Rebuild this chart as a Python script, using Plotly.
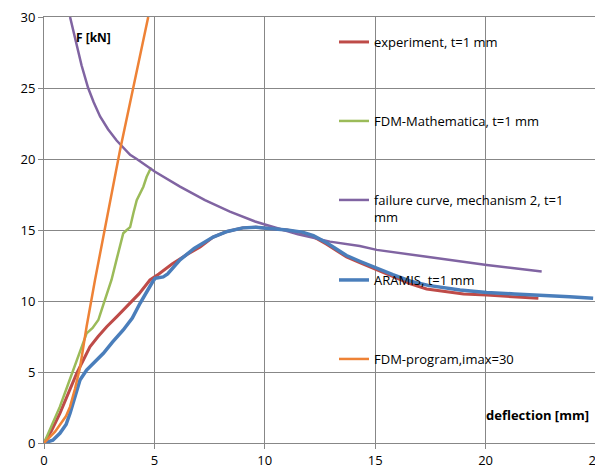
import plotly.graph_objects as go

# ---- data ----
exp_x = [0, 0.35, 0.72, 1.1, 1.48, 1.8, 2.08, 2.45, 2.84, 3.3, 3.74, 4.3, 4.8, 5.2, 5.8, 6.5, 7.07,
         7.66, 8.3, 9.0, 9.6, 10.2, 11.0, 11.7, 12.2, 12.8, 13.3, 13.7, 14.3, 15.07, 15.8, 16.6,
         17.33, 18.2, 19.0, 20.05, 21.2, 22.39]
exp_y = [0, 0.9, 2.09, 3.5, 4.9, 5.9, 6.78, 7.5, 8.19, 8.9, 9.6, 10.5, 11.48, 11.9, 12.6, 13.3, 13.8,
         14.5, 14.9, 15.15, 15.2, 15.1, 15.0, 14.8, 14.53, 14.0, 13.5, 13.1, 12.7, 12.2, 11.7, 11.2,
         10.85, 10.65, 10.5, 10.42, 10.3, 10.19]

math_x = [0, 0.35, 0.72, 1.0, 1.33, 1.6, 1.93, 2.2, 2.46, 2.61, 2.76, 3.06, 3.3, 3.59, 3.75, 3.9,
          4.05, 4.2, 4.5, 4.65, 4.85]
math_y = [0, 1.25, 2.56, 3.75, 5.14, 6.3, 7.72, 8.1, 8.66, 9.37, 10.07, 11.5, 13.0, 14.77, 15.0, 15.2,
          16.2, 17.1, 18.05, 18.75, 19.4]

fail_x = [1.18, 1.3, 1.48, 1.7, 2.0, 2.25, 2.54, 2.9, 3.29, 3.9, 4.2, 5.03, 6.16, 7.29, 8.42, 9.56,
          10.08, 11.5, 12.95, 14.3, 15.07, 16.2, 17.33, 18.7, 20.05, 21.3, 22.54]
fail_y = [30, 29.2, 28.1, 26.6, 25, 24.0, 23, 22.1, 21.3, 20.3, 20.0, 19.1, 18.05, 17.1, 16.3, 15.6,
          15.35, 14.7, 14.18, 13.87, 13.6, 13.35, 13.12, 12.8, 12.54, 12.3, 12.07]

aramis_x = [0, 0.4, 0.72, 1.0, 1.18, 1.4, 1.63, 1.93, 2.3, 2.69, 3.1, 3.59, 4.0, 4.35, 4.88, 5.03,
            5.4, 5.6, 6.16, 6.8, 7.66, 8.3, 9.0, 9.6, 10.2, 11.0, 11.7, 12.2, 12.8, 13.3, 13.7, 14.3,
            15.07, 15.8, 16.6, 17.4, 18.84, 20.05, 21.3, 22.6, 23.8, 24.87]
aramis_y = [0, 0.2, 0.68, 1.3, 2.09, 3.2, 4.44, 5.14, 5.75, 6.32, 7.1, 7.96, 8.8, 9.84, 11.25, 11.6,
            11.7, 11.9, 12.9, 13.7, 14.5, 14.9, 15.15, 15.2, 15.1, 15.0, 14.85, 14.6, 14.1, 13.6, 13.2,
            12.8, 12.3, 11.85, 11.4, 11.1, 10.77, 10.6, 10.5, 10.42, 10.3, 10.2]

prog_x = [0, 0.5, 1.0, 1.18, 1.4, 1.63, 1.93, 2.31, 3.44, 4.04, 4.72]
prog_y = [0, 0.8, 1.9, 2.56, 3.8, 5.3, 8.2, 11.48, 20.6, 25, 30]

names = ["experiment, t=1 mm", "FDM-Mathematica, t=1 mm",
         "failure curve, mechanism 2, t=1<br>mm", "ARAMIS, t=1 mm", "FDM-program,imax=30"]
colors = ["#BE4B48", "#9BBB59", "#8064A2", "#4A7EBB", "#EE8236"]
widths = [3, 2.5, 2.5, 3.5, 2.5]
series = [(exp_x, exp_y), (math_x, math_y), (fail_x, fail_y), (aramis_x, aramis_y), (prog_x, prog_y)]

# page has an 8px body margin; work in page pixel coordinates
OFF = 8
W, H = 603 - OFF, 466 - OFF
PL, PR, PT, PB = 44, 596, 17, 443          # plot area in page pixels
L, R, T, B = PL - OFF, W - (PR - OFF), PT - OFF, H - (PB - OFF)


def px_x(p):
    return (p - PL) / (PR - PL)


def px_y(p):
    return (PB - p) / (PB - PT)


# legend symbol vertical centre (page pixels)
leg_px = [42, 121, 200, 280, 359]

fig = go.Figure()
legends = {}
for i, ((xs, ys), n, c, w) in enumerate(zip(series, names, colors, widths)):
    lname = "legend" if i == 0 else f"legend{i+1}"
    fig.add_trace(go.Scatter(x=xs, y=ys, mode="lines", name=n, showlegend=True,
                             line=dict(color=c, width=w), legend=lname))
    legends[lname] = dict(
        x=px_x(334), xanchor="left",
        y=px_y(leg_px[i] - 15), yanchor="top",
        bgcolor="rgba(0,0,0,0)", borderwidth=0, valign="top",
        font=dict(family="Open Sans", size=13, color="#000000"),
        itemwidth=30, visible=True,
    )

axis_common = dict(showgrid=True, gridcolor="#878787", gridwidth=1,
                   showline=True, linecolor="#878787", linewidth=1, mirror=True,
                   ticks="outside", ticklen=5, tickcolor="#878787",
                   tickfont=dict(family="Open Sans", size=13, color="#000000"),
                   ticklabeloverflow="allow",
                   zeroline=False, layer="below traces")

fig.update_layout(
    width=W, height=H,
    margin=dict(l=L, r=R, t=T, b=B, autoexpand=False),
    paper_bgcolor="white", plot_bgcolor="white",
    showlegend=True,
    xaxis=dict(range=[0, 25], dtick=5, **axis_common),
    yaxis=dict(range=[0, 30], dtick=5, **axis_common),
    **legends,
    annotations=[
        dict(text="<b>F [kN]</b>", xref="paper", yref="paper", showarrow=False,
             x=px_x(74), xanchor="left", y=px_y(37), yanchor="middle",
             font=dict(family="Open Sans", size=12, color="#000000")),
        dict(text="<b>deflection [mm]</b>", xref="paper", yref="paper", showarrow=False,
             x=px_x(591), xanchor="right", y=px_y(415), yanchor="middle",
             font=dict(family="Open Sans", size=13, color="#000000")),
    ],
)

fig.write_html("out.html")
